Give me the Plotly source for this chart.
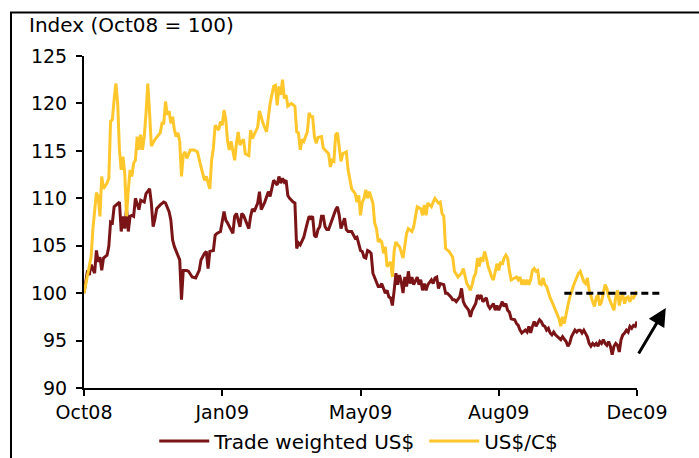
import plotly.graph_objects as go

# Trading-day index: 0 = start of Oct08, a date label every 78 trading days
tick_days = [0, 78, 156, 234, 312]
tick_labels = ["Oct08", "Jan09", "May09", "Aug09", "Dec09"]

# Trade weighted US$ (index, Oct08 = 100)
twi_days = [
    0, 1, 2, 3, 4, 6, 7, 8, 9, 10, 11, 13, 14, 15, 16, 17, 19, 20, 21, 22,
    23, 24, 25, 26, 27, 28, 29, 30, 31, 32, 34, 35, 37, 38, 39, 40, 41, 43, 45, 46,
    48, 49, 50, 51, 53, 54, 55, 56, 58, 59, 61, 63, 65, 66, 68, 69, 70, 71, 73, 74,
    75, 77, 79, 80, 81, 83, 84, 85, 86, 88, 89, 90, 92, 93, 94, 95, 96, 98, 99, 100,
    102, 103, 104, 105, 106, 107, 109, 110, 111, 112, 113, 114, 115, 116, 118, 119, 120, 121, 122, 123,
    124, 126, 127, 128, 129, 130, 131, 132, 133, 134, 135, 136, 137, 138, 139, 140, 141, 142, 143, 144,
    145, 146, 147, 148, 149, 151, 152, 153, 154, 155, 156, 157, 158, 159, 160, 161, 162, 163, 164, 166,
    167, 168, 169, 170, 171, 172, 173, 174, 175, 176, 177, 178, 179, 180, 181, 182, 183, 184, 185, 186,
    188, 189, 190, 191, 192, 193, 194, 196, 197, 198, 199, 200, 201, 203, 204, 205, 207, 208, 209, 210,
    212, 213, 214, 215, 217, 218, 219, 221, 222, 223, 224, 225, 227, 228, 229, 231, 232, 233, 234, 236,
    237, 238, 239, 240, 241, 243, 244, 245, 246, 247, 249, 250, 251, 252, 253, 254, 255, 256, 257, 258,
    259, 260, 261, 262, 263, 264, 265, 266, 267, 268, 269, 270, 271, 272, 273, 274, 275, 276, 277, 278,
    279, 280, 281, 282, 283, 284, 285, 286, 287, 288, 289, 290, 291, 292, 293, 294, 295, 296, 297, 298,
    299, 300, 301, 302, 303, 304, 305, 306, 307, 308, 309, 310, 311, 312,
]
twi_vals = [
    100.0, 101.4, 102.4, 101.9, 103.0, 102.1, 104.5, 103.3, 103.8, 102.4, 103.7, 104.0, 104.9, 107.5, 107.4, 109.1, 109.5, 109.6, 106.5, 108.1,
    106.8, 108.9, 106.5, 108.1, 108.2, 108.1, 110.0, 109.5, 108.8, 109.8, 109.6, 110.5, 111.0, 109.5, 107.0, 107.8, 108.9, 109.3, 109.6, 109.5,
    108.6, 107.7, 105.6, 104.9, 104.0, 103.5, 99.3, 102.4, 102.4, 102.3, 101.7, 101.6, 102.4, 103.5, 104.2, 104.4, 102.6, 104.4, 104.5, 106.1,
    106.3, 106.5, 108.6, 107.7, 107.4, 106.7, 106.3, 108.1, 108.4, 107.0, 108.4, 108.2, 107.2, 106.8, 108.1, 108.9, 108.6, 109.5, 110.7, 108.8,
    109.6, 110.3, 110.7, 110.2, 111.2, 111.9, 111.4, 112.3, 111.6, 112.1, 111.7, 111.9, 110.3, 110.0, 109.6, 109.5, 104.7, 105.3, 105.1, 105.6,
    105.9, 107.4, 108.1, 107.9, 108.1, 106.1, 105.9, 106.7, 107.0, 108.1, 108.1, 107.0, 106.7, 106.7, 107.2, 107.9, 108.4, 108.8, 109.1, 108.2,
    106.8, 107.5, 107.9, 106.7, 106.5, 106.5, 106.1, 105.8, 105.9, 105.3, 104.5, 104.4, 103.8, 103.7, 104.5, 104.4, 104.2, 102.1, 101.6, 100.7,
    100.7, 101.0, 100.5, 100.0, 100.3, 99.6, 99.5, 98.7, 100.3, 102.1, 100.9, 101.9, 101.2, 100.0, 101.7, 100.7, 102.3, 101.0, 101.7, 100.9,
    101.7, 100.9, 101.4, 100.3, 101.0, 100.3, 100.9, 101.4, 101.0, 101.6, 101.7, 100.5, 101.0, 100.9, 100.0, 100.0, 99.6, 99.3, 99.3, 99.1,
    99.6, 100.5, 99.1, 98.7, 98.2, 97.5, 98.2, 98.9, 99.8, 99.5, 99.8, 99.1, 99.5, 98.7, 98.4, 98.9, 98.2, 98.7, 98.2, 99.1,
    98.6, 98.9, 98.2, 98.0, 97.3, 97.2, 96.8, 96.6, 96.1, 95.8, 96.1, 95.9, 96.5, 95.8, 96.5, 97.0, 96.5, 96.8, 97.2, 97.0,
    96.6, 96.5, 96.1, 96.3, 95.8, 95.6, 95.9, 95.6, 95.4, 95.2, 95.1, 95.4, 95.1, 94.9, 94.4, 94.7, 95.4, 95.8, 96.1, 95.9,
    96.1, 96.1, 95.8, 96.1, 95.8, 95.4, 94.7, 94.4, 94.7, 94.5, 94.7, 94.4, 94.9, 94.7, 95.1, 94.7, 94.5, 94.9, 94.4, 93.5,
    94.4, 94.7, 94.5, 93.8, 95.1, 95.6, 95.8, 96.1, 95.9, 96.5, 96.3, 96.6, 96.5, 97.0,
]

# US$/C$ (index, Oct08 = 100)
cad_days = [
    0, 2, 4, 5, 7, 8, 9, 10, 11, 13, 14, 15, 16, 17, 18, 19, 20, 21, 22, 23,
    24, 25, 26, 27, 28, 29, 30, 31, 32, 33, 34, 35, 36, 37, 38, 40, 41, 43, 44, 45,
    46, 47, 48, 49, 50, 51, 52, 53, 54, 55, 56, 57, 58, 60, 62, 64, 66, 68, 69, 71,
    72, 73, 74, 76, 77, 78, 79, 80, 81, 82, 83, 85, 86, 87, 88, 89, 90, 91, 93, 94,
    95, 97, 98, 99, 100, 101, 103, 105, 107, 108, 109, 110, 111, 112, 113, 114, 115, 117, 119, 120,
    121, 122, 123, 124, 126, 127, 128, 129, 130, 131, 132, 134, 135, 136, 138, 139, 140, 141, 142, 143,
    144, 145, 146, 148, 149, 150, 151, 153, 154, 155, 156, 157, 158, 159, 160, 161, 163, 164, 165, 166,
    167, 168, 169, 170, 171, 173, 174, 175, 176, 177, 178, 180, 181, 182, 183, 185, 186, 187, 188, 190,
    191, 192, 193, 194, 196, 197, 198, 200, 201, 202, 203, 204, 205, 206, 208, 209, 211, 213, 214, 216,
    217, 218, 219, 220, 221, 222, 223, 224, 225, 226, 227, 228, 229, 230, 231, 232, 233, 234, 235, 236,
    237, 238, 239, 240, 241, 243, 244, 245, 246, 247, 248, 249, 250, 251, 252, 253, 254, 255, 256, 257,
    258, 259, 260, 261, 262, 263, 264, 265, 266, 267, 268, 269, 270, 271, 272, 273, 274, 275, 276, 277,
    278, 279, 280, 281, 282, 283, 284, 285, 286, 287, 288, 289, 290, 291, 292, 293, 294, 295, 296, 297,
    298, 299, 300, 301, 302, 303, 304, 305, 306, 307, 308, 309, 310, 311, 312,
]
cad_vals = [
    100.0, 102.1, 103.8, 106.7, 110.6, 110.2, 108.1, 112.3, 111.0, 111.6, 112.1, 118.1, 118.3, 120.4, 122.1, 120.0, 115.1, 113.0, 114.4, 112.6,
    108.1, 110.9, 113.0, 112.3, 113.7, 114.0, 116.5, 115.1, 116.7, 115.1, 116.5, 119.0, 122.1, 119.0, 115.5, 116.2, 116.4, 116.9, 117.9, 117.9,
    120.2, 118.8, 119.2, 117.9, 118.6, 117.2, 116.5, 116.9, 116.0, 112.3, 114.6, 114.9, 114.2, 115.1, 115.1, 114.9, 113.3, 111.9, 112.3, 111.0,
    114.0, 115.3, 117.7, 117.2, 118.1, 117.7, 119.3, 118.3, 116.0, 115.1, 116.0, 114.0, 115.8, 117.0, 115.6, 116.0, 116.2, 114.7, 114.5, 117.2,
    116.3, 117.0, 117.5, 119.2, 118.6, 117.9, 117.0, 120.0, 121.8, 121.9, 119.8, 121.8, 120.9, 122.5, 120.5, 120.9, 119.7, 120.0, 119.7, 117.0,
    116.9, 115.1, 116.2, 116.0, 117.0, 119.0, 118.6, 118.6, 116.5, 115.8, 116.4, 116.5, 115.3, 115.1, 114.7, 113.3, 114.0, 113.9, 116.7, 116.9,
    115.1, 113.9, 114.7, 114.9, 113.0, 111.9, 111.0, 110.5, 109.6, 110.3, 108.2, 109.6, 110.0, 110.9, 110.0, 110.7, 109.5, 107.4, 106.8, 105.4,
    105.6, 105.4, 104.2, 104.9, 102.8, 103.3, 101.7, 104.5, 105.4, 105.1, 104.9, 103.7, 105.3, 106.3, 106.8, 106.5, 107.0, 108.2, 109.1, 108.9,
    108.2, 109.3, 108.2, 109.5, 109.1, 109.6, 110.0, 109.5, 109.6, 108.4, 108.1, 104.7, 104.5, 104.4, 103.8, 102.3, 101.7, 102.1, 102.6, 101.0,
    100.7, 100.3, 100.9, 101.7, 102.1, 103.7, 102.8, 103.8, 103.3, 104.4, 103.7, 102.8, 102.3, 101.7, 101.4, 102.1, 103.1, 102.4, 103.3, 103.0,
    103.7, 104.0, 103.7, 102.4, 101.4, 101.6, 101.7, 101.4, 101.7, 100.9, 101.4, 100.9, 101.4, 100.9, 101.4, 102.4, 102.6, 102.3, 102.4, 101.0,
    100.9, 101.6, 100.9, 100.7, 100.0, 99.5, 99.1, 98.6, 98.2, 97.6, 97.3, 96.5, 97.5, 96.8, 97.9, 98.7, 99.5, 100.2, 100.7, 101.2,
    101.7, 102.1, 102.3, 101.7, 101.2, 101.0, 101.6, 100.3, 99.6, 99.1, 98.6, 99.5, 99.8, 98.7, 99.1, 100.0, 100.9, 100.5, 99.6, 99.1,
    98.6, 98.2, 99.6, 100.3, 98.7, 99.6, 99.8, 98.9, 99.5, 99.6, 99.1, 99.6, 99.5, 99.8, 100.2,
]

# Parity reference drawn over the last stretch of US$/C$
parity_level = 100
parity_days = [271, 325]

y_range = [90, 125]
x_range = [tick_days[0], tick_days[-1]]

RED = "#7B1416"
GOLD = "#FFC72C"
FONT = "DejaVu Sans"


def day_to_paper(d):
    return (d - x_range[0]) / (x_range[1] - x_range[0])


def level_to_paper(v):
    return (v - y_range[0]) / (y_range[1] - y_range[0])


fig = go.Figure()
fig.add_trace(go.Scatter(
    x=twi_days, y=twi_vals, mode="lines", name="Trade weighted US$",
    line=dict(color=RED, width=3), legendwidth=205,
))
fig.add_trace(go.Scatter(
    x=cad_days, y=cad_vals, mode="lines", name="US$/C$",
    line=dict(color=GOLD, width=3),
))

axis_common = dict(
    showgrid=False, zeroline=False, showline=True, linecolor="black",
    linewidth=2, ticks="outside", ticklen=6, tickwidth=2, tickcolor="black",
    tickfont=dict(family=FONT, size=19, color="black"), fixedrange=True,
)
fig.update_xaxes(range=x_range, tickvals=tick_days, ticktext=tick_labels, **axis_common)
fig.update_yaxes(range=y_range, tick0=90, dtick=5, ticklabelstandoff=5, **axis_common)

fig.update_layout(
    width=699, height=458,
    margin=dict(l=84, r=62, t=56, b=70, autoexpand=False),
    paper_bgcolor="white", plot_bgcolor="white",
    font=dict(family=FONT, size=19, color="black"),
    showlegend=True,
    legend=dict(
        orientation="h", x=0.127, y=-0.16, xanchor="left", yanchor="middle",
        font=dict(family=FONT, size=20, color="black"),
        itemwidth=50, bgcolor="rgba(0,0,0,0)",
    ),
    annotations=[
        dict(text="Index (Oct08 = 100)", xref="paper", yref="paper",
             x=-0.103, y=1.093, xanchor="left", yanchor="middle",
             showarrow=False, font=dict(family=FONT, size=20, color="black")),
        dict(text="", xref="paper", yref="paper", x=1.052, y=0.241,
             ax=-28, ay=47, showarrow=True, arrowhead=2, arrowsize=1.2,
             arrowwidth=3, arrowcolor="black", standoff=0),
    ],
    shapes=[
        # chart frame
        dict(type="rect", xref="paper", yref="paper",
             x0=-0.132, x1=1.5, y0=-0.6, y1=1.131,
             line=dict(color="black", width=2), fillcolor="rgba(0,0,0,0)"),
        # parity line
        dict(type="line", xref="paper", yref="paper",
             x0=day_to_paper(parity_days[0]), x1=day_to_paper(parity_days[1]),
             y0=level_to_paper(parity_level), y1=level_to_paper(parity_level),
             line=dict(color="black", width=3, dash="7px,4px")),
    ],
)

fig.write_html("out.html")
